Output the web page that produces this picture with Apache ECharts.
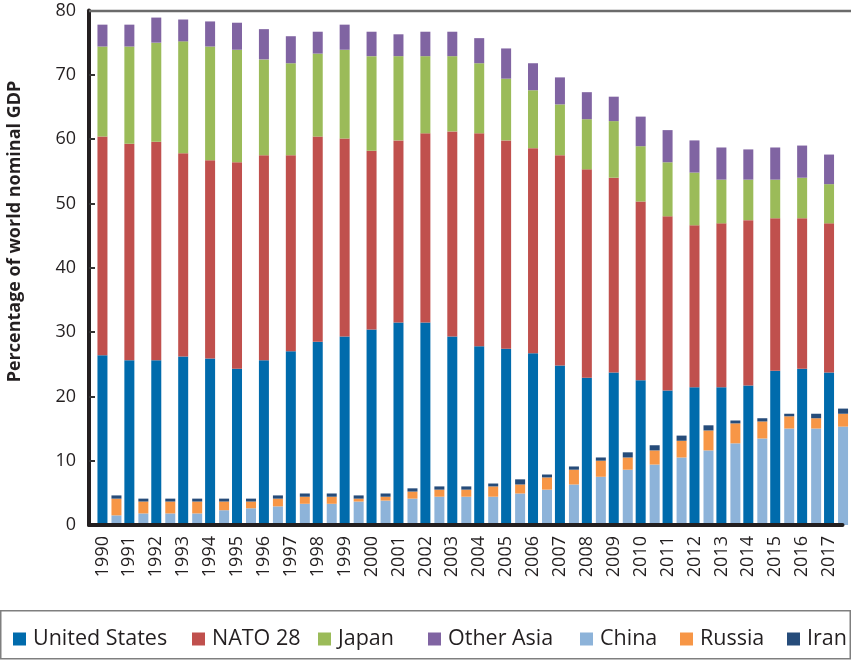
<!DOCTYPE html>
<html><head><meta charset="utf-8">
<script src="https://cdn.jsdelivr.net/npm/echarts@6/dist/echarts.min.js"></script>
<style>html,body{margin:0;padding:0;background:#fff}#c{width:851px;height:660px}</style>
</head><body><div id="c"></div>
<script>
const years = ['1990','1991','1992','1993','1994','1995','1996','1997','1998','1999','2000','2001','2002','2003','2004','2005','2006','2007','2008','2009','2010','2011','2012','2013','2014','2015','2016','2017'];
const unitedStates = [26.4,25.6,25.6,26.2,25.9,24.3,25.6,27.0,28.5,29.3,30.4,31.5,31.5,29.3,27.8,27.4,26.7,24.8,22.9,23.7,22.5,20.9,21.4,21.4,21.7,24.0,24.3,23.7];
const nato28 = [34.0,33.7,34.0,31.6,30.8,32.1,31.9,30.5,31.9,30.8,27.8,28.3,29.4,31.9,33.1,32.4,31.9,32.7,32.4,30.3,27.8,27.1,25.2,25.5,25.7,23.7,23.4,23.2];
const japan = [14.0,15.1,15.4,17.4,17.7,17.5,14.9,14.3,12.9,13.8,14.7,13.1,12.0,11.7,10.9,9.6,9.0,7.9,7.8,8.8,8.6,8.4,8.2,6.8,6.3,6.0,6.3,6.1];
const otherAsia = [3.4,3.4,3.9,3.4,3.9,4.2,4.7,4.2,3.4,3.9,3.8,3.4,3.8,3.8,3.9,4.7,4.2,4.2,4.2,3.8,4.6,5.0,5.0,5.0,4.7,5.0,5.0,4.6];
const china = [1.5,1.8,1.8,1.8,2.3,2.6,2.9,3.3,3.3,3.65,3.8,4.1,4.4,4.4,4.4,4.9,5.5,6.3,7.5,8.6,9.4,10.5,11.6,12.7,13.45,15.0,15.0,15.3];
const russia = [2.6,1.85,1.85,1.85,1.35,1.05,1.2,1.1,1.1,0.45,0.6,1.1,1.1,1.1,1.6,1.4,1.9,2.3,2.5,1.9,2.2,2.6,3.1,3.1,2.65,1.9,1.6,2.0];
const iran = [0.5,0.45,0.45,0.45,0.45,0.45,0.5,0.5,0.5,0.5,0.5,0.5,0.5,0.5,0.45,0.8,0.45,0.5,0.5,0.8,0.8,0.8,0.8,0.45,0.5,0.4,0.7,0.8];
const yTicks = [0,10,20,30,40,50,60,70,80];
const yTitle = 'Percentage of world nominal GDP';

const colors = {
  'United States':'#006BAC','NATO 28':'#C0504D','Japan':'#9BBB59','Other Asia':'#8064A2',
  'China':'#8DB3D9','Russia':'#F79646','Iran':'#264C7A'
};
const FONT = '"Open Sans", "Noto Sans", sans-serif';
function bar(name, data, stack){
  return {name, type:'bar', stack, data, barWidth:10, barGap:'40%', clip:false,
    itemStyle:{color:colors[name]}, emphasis:{disabled:true}};
}
const legendPos = [['United States',13],['NATO 28',192],['Japan',318],['Other Asia',428],['China',580],['Russia',680],['Iran',787]];
const chart = echarts.init(document.getElementById('c'), null, {renderer:'canvas'});
chart.setOption({
  animation:false,
  textStyle:{fontFamily:FONT},
  grid:{left:89, right:8.5, top:10.5, bottom:135, containLabel:false},
  xAxis:{type:'category', data:years, z:10,
    axisLine:{lineStyle:{color:'#231F20', width:4}},
    axisTick:{show:false},
    axisLabel:{rotate:90, fontSize:18, color:'#231F20', margin:11, fontFamily:FONT, interval:0}},
  yAxis:{type:'value', min:yTicks[0], max:yTicks[yTicks.length-1], interval:10,
    axisLine:{show:true, lineStyle:{color:'#231F20', width:4}},
    axisTick:{show:true, inside:true, length:6, lineStyle:{color:'#333', width:2}},
    splitLine:{show:false},
    axisLabel:{fontSize:18, color:'#231F20', margin:13, fontFamily:FONT}},
  legend: legendPos.map(([n,x])=>({data:[n], left:x, top:628, itemWidth:13, itemHeight:13, itemGap:0, padding:0,
    icon:'rect', textStyle:{fontSize:21.5, lineHeight:13, color:'#231F20', fontFamily:FONT, padding:[0,0,0,2]}, selectedMode:false})),
  graphic:[
    {type:'line', shape:{x1:89, y1:11, x2:851, y2:11}, style:{stroke:'#6b6b6b', lineWidth:2.5}, z:100},
    {type:'rect', shape:{x:0.75, y:610.75, width:849.5, height:48}, style:{fill:'none', stroke:'#7f7f7f', lineWidth:1.5}},
    {type:'text', x:15, y:231.5, rotation:Math.PI/2,
      style:{text:yTitle, fill:'#231F20', font:'bold 18px "Open Sans", sans-serif', align:'center', verticalAlign:'middle'}}
  ],
  series:[
    {name:'_pad', type:'bar', stack:'pad', data:years.map(()=>null), barWidth:10, barGap:'40%', silent:true},
    bar('United States', unitedStates, 'west'),
    bar('NATO 28', nato28, 'west'),
    bar('Japan', japan, 'west'),
    bar('Other Asia', otherAsia, 'west'),
    bar('China', china, 'east'),
    bar('Russia', russia, 'east'),
    bar('Iran', iran, 'east')
  ]
});
</script></body></html>
